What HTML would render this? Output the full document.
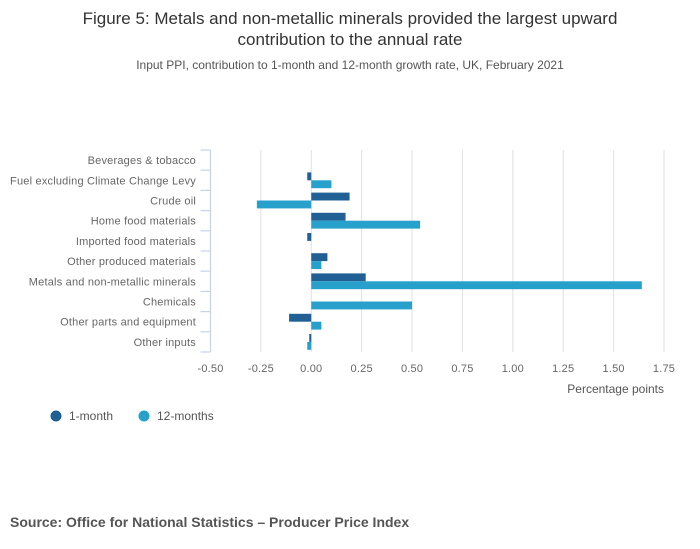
<!DOCTYPE html>
<html><head><meta charset="utf-8">
<style>
body{margin:0;background:#fff;font-family:"Liberation Sans",sans-serif;}
#wrap{position:relative;width:700px;height:549px;overflow:hidden;}
</style></head>
<body>
<div id="wrap">
<svg id="chart" width="700" height="549">
<text x="350" y="24" text-anchor="middle" font-size="17" fill="#333">Figure 5: Metals and non-metallic minerals provided the largest upward</text>
<text x="350" y="45" text-anchor="middle" font-size="17" fill="#333">contribution to the annual rate</text>
<text x="350" y="69" text-anchor="middle" font-size="12" fill="#555">Input PPI, contribution to 1-month and 12-month growth rate, UK, February 2021</text>
<g id="grid"></g><g id="bars"></g><g id="axes"></g>
<text x="664" y="393" text-anchor="end" font-size="12" fill="#555">Percentage points</text>
<circle cx="56" cy="416" r="5.5" fill="#206095"/>
<text x="69" y="420" font-size="12" fill="#555">1-month</text>
<circle cx="144" cy="416" r="5.5" fill="#27a0cc"/>
<text x="157" y="420" font-size="12" fill="#555">12-months</text>
<text x="10" y="527" font-size="14" font-weight="bold" fill="#555">Source: Office for National Statistics – Producer Price Index</text>
</svg>
</div>
<script>
const categories=["Beverages & tobacco","Fuel excluding Climate Change Levy","Crude oil","Home food materials","Imported food materials","Other produced materials","Metals and non-metallic minerals","Chemicals","Other parts and equipment","Other inputs"];
const oneMonth=[0,-0.02,0.19,0.17,-0.02,0.08,0.27,0,-0.11,-0.01];
const twelveMonths=[0,0.10,-0.27,0.54,0,0.05,1.64,0.50,0.05,-0.02];
const xTicks=[-0.5,-0.25,0,0.25,0.5,0.75,1,1.25,1.5,1.75];
const xTickLabels=["-0.50","-0.25","0.00","0.25","0.50","0.75","1.00","1.25","1.50","1.75"];

const NS="http://www.w3.org/2000/svg";
const x0=210.5,x1=664,vmin=-0.5,vmax=1.75,yTop=150,yBot=352;
const band=(yBot-yTop)/categories.length;
function xs(v){return x0+(v-vmin)/(vmax-vmin)*(x1-x0);}
function yb(i){return yTop+i*band;}
function mk(tag,attrs,parent){const e=document.createElementNS(NS,tag);for(const k in attrs)e.setAttribute(k,attrs[k]);document.getElementById(parent).appendChild(e);return e;}
xTicks.forEach((t,i)=>{
  if(i>0){const g=mk('line',{x1:xs(t),x2:xs(t),y1:yTop,y2:yBot,stroke:'#e0e0e0','stroke-width':1},'grid');
  
  }
  const l=mk('text',{x:xs(t),y:372,'text-anchor':'middle','font-size':11,fill:'#666','letter-spacing':0.2},'axes');
  l.textContent=xTickLabels[i];
  
  
});
const ax=mk('line',{x1:x0,x2:x0,y1:yTop,y2:yBot,stroke:'#c8d2ea','stroke-width':1.2},'axes');


for(let i=0;i<=categories.length;i++){
  const tk=mk('line',{x1:x0-10,x2:x0,y1:yb(i),y2:yb(i),stroke:'#c8d2ea','stroke-width':1.2},'axes');
  
  
}
categories.forEach((c,i)=>{
  const t=mk('text',{x:196,y:yb(i)+band/2+4,'text-anchor':'end','font-size':11,fill:'#666','letter-spacing':0.2},'axes');
  t.textContent=c;
  
  
  const z=xs(0);
  const v1=oneMonth[i],v2=twelveMonths[i];
  const b1=mk('rect',{x:Math.min(z,xs(v1)),y:yb(i)+2.2,width:Math.abs(xs(v1)-z),height:7.9,fill:'#206095'},'bars');
  
  
  const b2=mk('rect',{x:Math.min(z,xs(v2)),y:yb(i)+10.1,width:Math.abs(xs(v2)-z),height:7.9,fill:'#27a0cc'},'bars');
  
  
});
</script>
</body></html>
